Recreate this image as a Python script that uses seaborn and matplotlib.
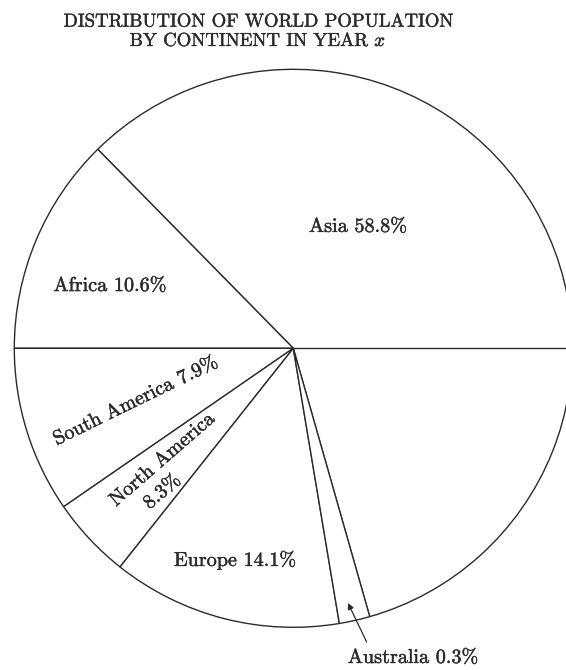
"""World population by continent - pie chart redrawn from a textbook figure."""
import matplotlib
matplotlib.use("Agg")
import matplotlib.pyplot as plt
import matplotlib.patheffects as pe
import seaborn as sns

# labels as printed on the chart
continents = ["Asia", "Africa", "South America", "North America", "Europe", "Australia"]
shares = [58.8, 10.6, 7.9, 8.3, 14.1, 0.3]
# wedge sizes as actually drawn in the figure (degrees, not to scale)
drawn_deg = [208.6, 45.5, 34.6, 17.0, 47.9, 6.4]
start_deg = -74.1

sns.set_theme(style="white")
plt.rcParams["font.family"] = ["cmr10", "DejaVu Serif"]
plt.rcParams["mathtext.fontset"] = "cm"
plt.rcParams["axes.unicode_minus"] = False

INK = "#2b2b2b"
thick = [pe.withStroke(linewidth=0.3, foreground=INK)]

fig = plt.figure(figsize=(5.66, 6.70), dpi=100)
ax = fig.add_axes([0, 0, 1, 1])
ax.pie(drawn_deg, startangle=start_deg, counterclock=True, radius=1.0,
       colors=["white"] * len(drawn_deg),
       wedgeprops=dict(edgecolor=INK, linewidth=1.0))
ax.plot([0, 1], [0, 0], color=INK, lw=1.0)  # stray radius on the right
ax.set_xlim(-293.3 / 279, (566 - 293.3) / 279)
ax.set_ylim(-(670 - 348.3) / 279, 348.3 / 279)
ax.set_aspect("auto")
ax.axis("off")

lab = {c: f"{c} {s}%" for c, s in zip(continents, shares)}
fs = 14.5
kw = dict(fontsize=fs, color=INK, path_effects=thick, ha="center", va="center")
ax.text(0.232, 0.435, lab["Asia"], **kw)
ax.text(-0.657, 0.223, lab["Africa"], **kw)
ax.text(-0.565, -0.190, lab["South America"], rotation=26,
        rotation_mode="anchor", **kw)
ax.text(-0.469, -0.400, continents[3], rotation=41, rotation_mode="anchor", **kw)
ax.text(-0.469, -0.515, f"{shares[3]}%", rotation=41, rotation_mode="anchor", **kw)
ax.text(-0.209, -0.759, lab["Europe"], **kw)
ax.annotate(lab["Australia"], xy=(0.196, -0.913), xytext=(0.429, -1.110), **kw,
            arrowprops=dict(arrowstyle="-|>", color=INK, lw=0.9,
                            shrinkA=3, shrinkB=0, mutation_scale=9,
                            relpos=(0.17, 1.0)))

ax.text(-0.127, 1.136, "DISTRIBUTION OF WORLD POPULATION\nBY CONTINENT IN YEAR $x$",
        ha="center", va="center", fontsize=13.5, color=INK, linespacing=1.1,
        path_effects=thick)

fig.savefig("out.png", dpi=100)
